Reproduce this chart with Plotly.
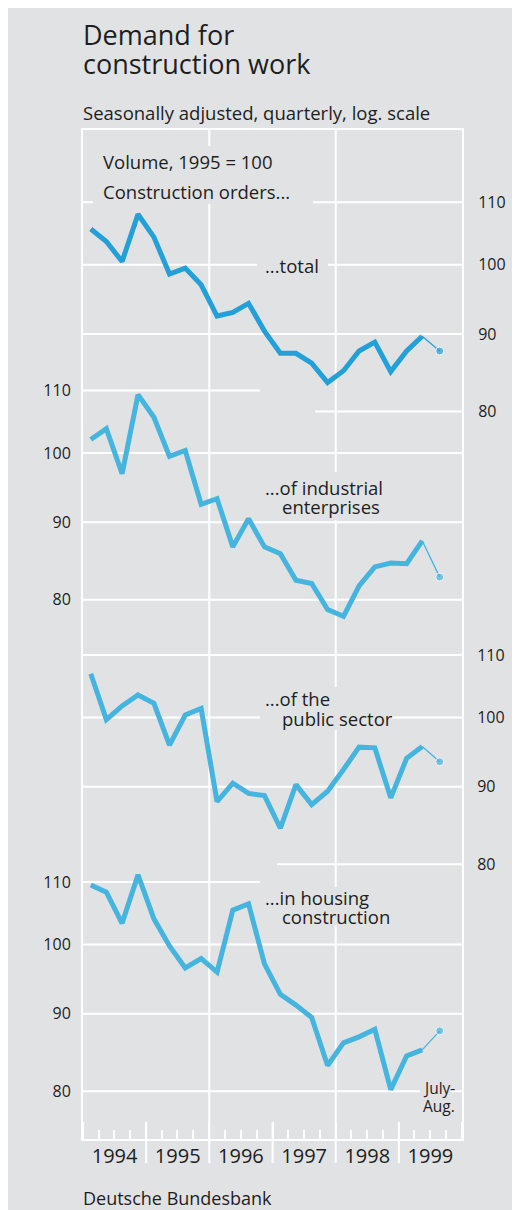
import math
import plotly.graph_objects as go

# ---------------- data ----------------
quarters = [
    "1994-02-15", "1994-05-16", "1994-08-15", "1994-11-15",
    "1995-02-15", "1995-05-16", "1995-08-15", "1995-11-15",
    "1996-02-15", "1996-05-16", "1996-08-15", "1996-11-15",
    "1997-02-15", "1997-05-16", "1997-08-15", "1997-11-15",
    "1998-02-15", "1998-05-16", "1998-08-15", "1998-11-15",
    "1999-02-15", "1999-05-16",
]
latest_period = "1999-08-25"  # July-Aug. 1999

total = [105.6, 103.6, 100.5, 108.0, 104.3, 98.6, 99.5, 97.0, 92.5, 93.0, 94.3,
         90.4, 87.4, 87.4, 86.1, 83.6, 85.1, 87.7, 88.9, 85.0, 87.7, 89.7]
total_latest = 87.7
industrial = [102.1, 103.8, 96.9, 109.3, 105.6, 99.5, 100.4, 92.5, 93.3, 86.7, 90.5,
              86.7, 85.8, 82.4, 82.0, 78.8, 78.0, 81.7, 84.1, 84.6, 84.5, 87.5]
industrial_latest = 82.8
public = [106.9, 99.7, 101.8, 103.5, 102.2, 95.9, 100.4, 101.4, 88.0, 90.5, 89.1,
          88.8, 84.5, 90.3, 87.6, 89.4, 92.4, 95.6, 95.5, 88.5, 94.0, 95.7]
public_latest = 93.5
housing = [109.5, 108.3, 103.3, 111.2, 104.0, 99.8, 96.5, 97.9, 95.9, 105.4, 106.4,
           97.1, 92.7, 91.2, 89.5, 83.2, 86.1, 86.9, 87.9, 80.2, 84.4, 85.2]
housing_latest = 87.7

tick_values = [80, 90, 100, 110]
tick_labels = ["80", "90", "100", "110"]
year_labels_start = "1994-01-01"
year_bounds = ["1995-01-01", "1996-01-01", "1997-01-01", "1998-01-01", "1999-01-01"]
full_year_lines = ["1996-01-01", "1998-01-01"]

# ---------------- layout constants (page pixels; page has an 8px body margin) ----------------
OFF = 8
W, H = 520 - OFF, 1210 - OFF
L, R, T, B = 83, 462, 130, 1139
BG = "#e1e2e4"
TXT = "#1e1e1e"
FONT = "Open Sans"
PX_PER_LN = 657.0
DEC = PX_PER_LN * math.log(10)


def px_x(x):
    return (x - L) / (R - L)


def px_y(y):
    return (B - y) / (B - T)


def log_range(y100):
    top = 2 + (y100 - T) / DEC
    return [top - (B - T) / DEC, top]


panels = [
    dict(vals=total, latest=total_latest, axis="y", key="yaxis", side="right",
         y100=264.8, color="#22a0d7",
         grid=[(110, 83, 462), (100, 83, 462), (90, 83, 462), (80, 315, 462)]),
    dict(vals=industrial, latest=industrial_latest, axis="y2", key="yaxis2", side="left",
         y100=453.1, color="#45b4de",
         grid=[(110, 83, 260), (100, 83, 462), (90, 83, 462), (80, 83, 462)]),
    dict(vals=public, latest=public_latest, axis="y3", key="yaxis3", side="right",
         y100=717.6, color="#45b4de",
         grid=[(110, 83, 462), (100, 83, 462), (90, 83, 462), (80, 277, 462)]),
    dict(vals=housing, latest=housing_latest, axis="y4", key="yaxis4", side="left",
         y100=944.6, color="#45b4de",
         grid=[(110, 83, 260), (100, 83, 462), (90, 83, 462), (80, 83, 462)]),
]

fig = go.Figure()
shapes = []
layout_axes = {}

for i, p in enumerate(panels):
    fig.add_trace(go.Scatter(
        x=quarters, y=p["vals"], yaxis=p["axis"], mode="lines",
        line=dict(color=p["color"], width=5), hoverinfo="skip", showlegend=False))
    fig.add_trace(go.Scatter(
        x=[quarters[-1], latest_period], y=[p["vals"][-1], p["latest"]], yaxis=p["axis"],
        mode="lines+markers", line=dict(color=p["color"], width=1.3),
        marker=dict(size=[0, 8], color=p["color"]), hoverinfo="skip", showlegend=False))
    ax = dict(
        type="log", range=log_range(p["y100"]), side=p["side"],
        tickvals=tick_values, ticktext=tick_labels,
        ticks="outside", tickcolor="rgba(0,0,0,0)",
        ticklen=11 if p["side"] == "right" else 8,
        showgrid=False, zeroline=False, fixedrange=True,
        tickfont=dict(family=FONT, size=16, color=TXT),
    )
    if i == 0:
        ax.update(showline=True, mirror=True, linecolor="white", linewidth=2)
    else:
        ax.update(overlaying="y", anchor="x", showline=False)
    layout_axes[p["key"]] = ax
    for v, x0, x1 in p["grid"]:
        shapes.append(dict(type="line", xref="paper", yref=p["axis"],
                           x0=px_x(x0), x1=px_x(x1), y0=v, y1=v,
                           line=dict(color="white", width=2), layer="below"))

ext = 24 / (B - T)
for d in year_bounds:
    top = 1 if d in full_year_lines else 17 / (B - T)
    shapes.append(dict(type="line", xref="x", yref="paper", x0=d, x1=d, y0=-ext, y1=top,
                       line=dict(color="white", width=2), layer="below"))

# grey knock-out boxes behind the in-chart labels (cover gridlines only)
knockouts = [
    (93, 313, 146, 204),
    (257, 328, 255, 276),
    (257, 390, 472, 520),
    (260, 392, 687, 730),
    (257, 393, 887, 925),
    (420, 451, 1080, 1116),
]
for x0, x1, y0, y1 in knockouts:
    shapes.append(dict(type="rect", xref="paper", yref="paper",
                       x0=px_x(x0), x1=px_x(x1), y0=px_y(y1), y1=px_y(y0),
                       fillcolor=BG, line=dict(width=0), layer="below"))

annotations = []


def ann(text, x_left, y_mid, size):
    annotations.append(dict(
        text=text, xref="paper", yref="paper", x=px_x(x_left - 1), y=px_y(y_mid),
        xanchor="left", yanchor="middle", showarrow=False, align="left",
        font=dict(family=FONT, size=size, color=TXT)))


ann("Demand for", 82, 34.7, 27)
ann("construction work", 82, 63, 27)
ann("Seasonally adjusted, quarterly, log. scale", 82, 112.6, 18.5)
ann("Volume, 1995 = 100", 101.5, 161.3, 18.5)
ann("Construction orders...", 101.5, 191.6, 18.5)
ann("...total", 264, 265, 18.5)
ann("...of industrial", 264, 487.3, 18.5)
ann("enterprises", 280.5, 506, 18.5)
ann("...of the", 264, 698.3, 18.5)
ann("public sector", 280.5, 718.3, 18.5)
ann("...in housing", 264, 897.6, 18.5)
ann("construction", 280.5, 916.6, 18.5)
ann("July-", 421.5, 1087.7, 15.5)
ann("Aug.", 421.5, 1106, 15.5)
ann("Deutsche Bundesbank", 82, 1197.5, 18)

fig.update_layout(
    width=W, height=H,
    margin=dict(l=L - OFF, r=(W + OFF) - R, t=T - OFF, b=(H + OFF) - B, pad=0),
    paper_bgcolor=BG, plot_bgcolor="rgba(0,0,0,0)",
    showlegend=False,
    xaxis=dict(
        type="date", range=["1994-01-01", "2000-01-01"],
        tick0=year_labels_start, dtick="M12", ticklabelmode="period", tickformat="%Y",
        ticks="inside", ticklen=17, tickwidth=2, tickcolor="white",
        minor=dict(dtick="M3", ticks="inside", ticklen=9, tickwidth=1.5,
                   tickcolor="white", showgrid=False),
        showgrid=False, zeroline=False, showline=True, mirror=True,
        linecolor="white", linewidth=2, fixedrange=True,
        tickfont=dict(family=FONT, size=20, color=TXT), ticklabelstandoff=-2,
    ),
    shapes=shapes,
    annotations=annotations,
    **layout_axes,
)

fig.write_html("out.html")
